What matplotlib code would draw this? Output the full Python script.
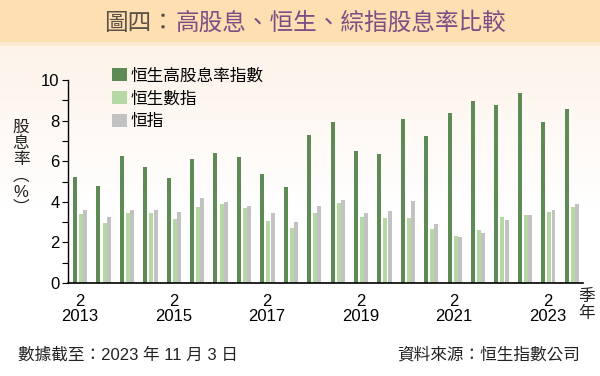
import numpy as np
import matplotlib
matplotlib.use("Agg")
import matplotlib.pyplot as plt
from matplotlib.patches import Rectangle

plt.rcParams["font.family"] = ["Liberation Sans", "Noto Sans CJK TC", "DejaVu Sans"]

# half-yearly observations, 2013 Q2 .. 2023 Q4
periods = ["2\n2013", "", "", "", "2\n2015", "", "", "", "2\n2017", "", "", "",
           "2\n2019", "", "", "", "2\n2021", "", "", "", "2\n2023", ""]
hs_high_yield = [5.2, 4.8, 6.25, 5.7, 5.15, 6.1, 6.4, 6.2, 5.35, 4.75, 7.3,
                 7.95, 6.5, 6.35, 8.1, 7.25, 8.35, 8.95, 8.75, 9.35, 7.95, 8.55]
hs_composite = [3.4, 2.95, 3.45, 3.45, 3.15, 3.75, 3.9, 3.7, 3.05, 2.7, 3.45,
                3.95, 3.25, 3.2, 3.2, 2.65, 2.3, 2.6, 3.25, 3.35, 3.5, 3.75]
hsi = [3.6, 3.25, 3.6, 3.6, 3.5, 4.2, 4.0, 3.8, 3.45, 3.0, 3.8,
       4.1, 3.45, 3.55, 4.05, 2.9, 2.25, 2.45, 3.1, 3.35, 3.6, 3.9]
series_names = ["恒生高股息率指數", "恒生數指", "恒指"]
colors = ["#5e8a55", "#b6d8a5", "#c2c2c2"]

fig = plt.figure(figsize=(6.0, 3.76), dpi=100)

# background: peach fade to white, plus title banner
bg = fig.add_axes([0, 0, 1, 1], zorder=-1)
grad = np.linspace(0, 1, 256).reshape(-1, 1)
grad = np.clip(grad * 1.8, 0, 1)
top = np.array([0.99, 0.94, 0.89])
img = top + (np.array([1.0, 1.0, 1.0]) - top) * grad[..., None]
bg.imshow(img, aspect="auto", extent=[0, 1, 0, 1], origin="upper")
bg.add_patch(Rectangle((0, 1 - 42 / 376), 1, 42 / 376, color="#fddfb2", lw=0))
bg.add_patch(Rectangle((0, 1 - 46 / 376), 1, 4 / 376, color="#fbe8d2", lw=0))
bg.set_xlim(0, 1)
bg.set_ylim(0, 1)
bg.axis("off")

fig.text(104 / 600, 1 - 23 / 376, "圖四：", ha="left", va="center",
         fontsize=17, color="#5a5048", family=["Noto Sans CJK TC"])
fig.text(176 / 600, 1 - 23 / 376, "高股息、恒生、綜指股息率比較",
         ha="left", va="center", fontsize=17, color="#7b4f86",
         family=["Noto Sans CJK TC"])

ax = fig.add_axes([68 / 600, 1 - 283 / 376, 515 / 600, 203 / 376])
ax.patch.set_alpha(0)
x = np.arange(len(hs_high_yield))
w = 0.17
ax.bar(x - 0.2, hs_high_yield, w, color=colors[0], label=series_names[0])
ax.bar(x + 0.06, hs_composite, w, color=colors[1], label=series_names[1])
ax.bar(x + 0.24, hsi, w, color=colors[2], label=series_names[2])

ax.set_xlim(-0.5, len(x) - 0.5)
ax.set_ylim(0, 10)
ax.set_yticks(range(0, 11, 2))
ax.set_yticks(range(1, 10, 2), minor=True)
ax.tick_params(axis="y", which="both", length=4, width=0.8, labelsize=12, pad=2)
ax.set_xticks(x)
ax.set_xticklabels(periods, fontsize=12, linespacing=1.0)
ax.tick_params(axis="x", length=0, pad=8)
for s in ["top", "right"]:
    ax.spines[s].set_visible(False)
ax.spines["left"].set_linewidth(1.0)
ax.spines["bottom"].set_linewidth(1.2)

leg = ax.legend(loc="upper left", bbox_to_anchor=(0.07, 1.1), frameon=False,
                fontsize=12, handlelength=0.85, handleheight=0.85,
                handletextpad=0.25, labelspacing=0.45, borderpad=0)

fig.text(21 / 600, 1 - 168 / 376, "股\n息\n率\n︵\n%\n︶", ha="center",
         va="center", fontsize=12, linespacing=1.1, color="#222222")
fig.text(587 / 600, 1 - 305 / 376, "季\n年", ha="center", va="center",
         fontsize=12, linespacing=1.1, color="#222222")

fig.text(18 / 600, 1 - 355 / 376, "數據截至：2023 年 11 月 3 日", ha="left",
         va="center", fontsize=12, color="#222222")
fig.text(580 / 600, 1 - 355 / 376, "資料來源：恒生指數公司", ha="right",
         va="center", fontsize=12, color="#222222")

fig.savefig("out.png", dpi=100)
